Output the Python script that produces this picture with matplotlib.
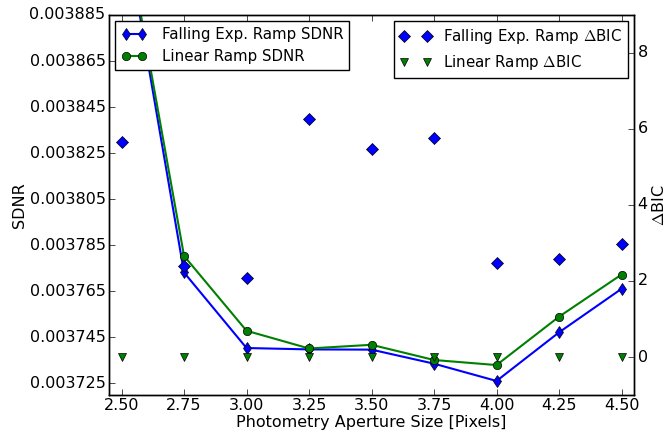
import matplotlib
matplotlib.use('Agg')
import matplotlib.pyplot as plt

plt.style.use('classic')

# Photometry aperture sizes (pixels)
apertures = [2.50, 2.75, 3.00, 3.25, 3.50, 3.75, 4.00, 4.25, 4.50]

# SDNR for each ramp model
sdnr_fallexp = [0.003931, 0.0037732, 0.0037404, 0.0037398, 0.0037397,
                0.0037336, 0.0037261, 0.0037472, 0.0037661]
sdnr_linear = [0.003932, 0.0037804, 0.0037479, 0.0037402, 0.0037418,
               0.0037352, 0.0037330, 0.0037540, 0.0037723]

# Delta BIC for each ramp model
dbic_fallexp = [5.67, 2.39, 2.07, 6.27, 5.47, 5.77, 2.47, 2.58, 2.97]
dbic_linear = [0, 0, 0, 0, 0, 0, 0, 0, 0]

fig = plt.figure(figsize=(6.66, 4.37), dpi=100, facecolor='white')
ax1 = fig.add_axes([0.1637, 0.0961, 0.7883, 0.8696])
ax1.plot(apertures, sdnr_fallexp, 'b-', marker='d', markersize=6.5, lw=1.5,
         label='Falling Exp. Ramp SDNR')
ax1.plot(apertures, sdnr_linear, 'g-', marker='o', markersize=6, lw=1.5,
         label='Linear Ramp SDNR')
ax1.set_xlim(2.45, 4.55)
ax1.set_ylim(0.00372, 0.003885)
ax1.set_xticks(apertures)
ax1.set_xticklabels(['%.2f' % a for a in apertures])
ax1.set_yticks([0.003725 + 0.00002 * i for i in range(9)])
ax1.set_yticklabels(['%.6f' % (0.003725 + 0.00002 * i) for i in range(9)])
ax1.tick_params(labelsize=11.5, pad=2.5)
ax1.set_xlabel('Photometry Aperture Size [Pixels]', fontsize=11.5, labelpad=1)
ax1.set_ylabel('SDNR', fontsize=11.5, labelpad=2)
ax1.legend(loc='upper left', numpoints=2, fontsize=10.8, handlelength=1.7,
           handletextpad=1.0, borderaxespad=0.4)

ax2 = ax1.twinx()
ax2.plot(apertures, dbic_fallexp, 'bD', markersize=6, ls='none',
         label=r'Falling Exp. Ramp $\Delta$BIC')
ax2.plot(apertures, dbic_linear, 'gv', markersize=5.5, ls='none',
         label=r'Linear Ramp $\Delta$BIC')
ax2.set_ylim(-1, 9)
ax2.set_yticks([0, 2, 4, 6, 8])
ax2.tick_params(labelsize=11.5, pad=2.5)
ax2.set_ylabel(r'$\Delta$BIC', fontsize=11.5, labelpad=2)
ax2.set_xlim(2.45, 4.55)
ax2.legend(loc='upper right', numpoints=2, fontsize=10.8, handlelength=2.1,
           handletextpad=0.8, borderaxespad=0.4)

fig.savefig('out.png', dpi=100, facecolor='white')
